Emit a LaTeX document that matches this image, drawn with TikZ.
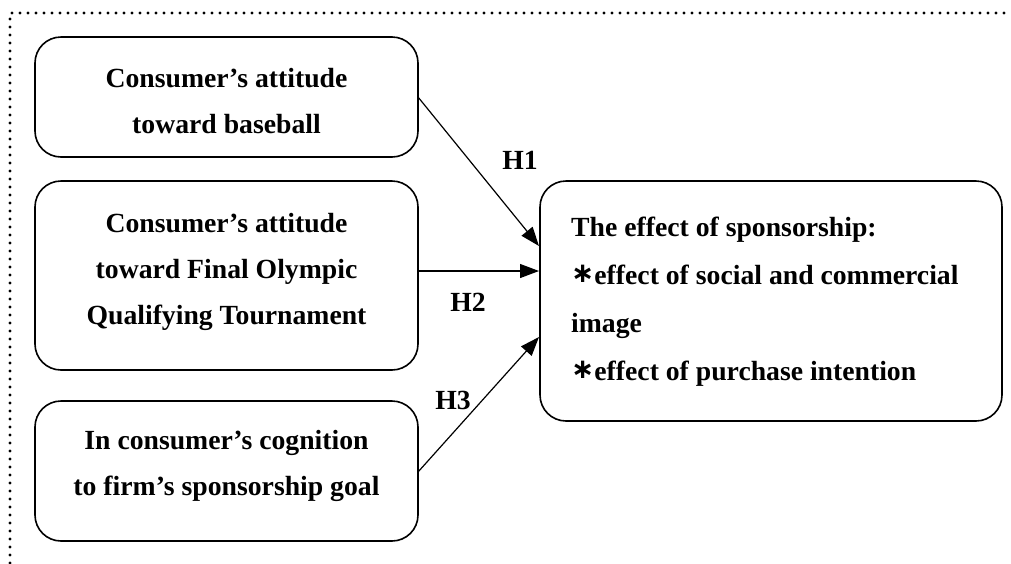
\documentclass[tikz,border=0pt]{standalone}
\usepackage{fontspec}
\setmainfont{Liberation Serif}
\newfontfamily\symfont{DejaVu Sans}
\usetikzlibrary{arrows.meta}
\begin{document}
\begin{tikzpicture}[x=1pt,y=-1pt,
  box/.style={draw,line width=1.6pt,rounded corners=26pt},
  txt/.style={align=center,font=\fontsize{27.7}{46}\selectfont\bfseries,inner sep=0pt},
  rtxt/.style={align=left,font=\fontsize{27.7}{48}\selectfont\bfseries,inner sep=0pt,anchor=north west},
  lbl/.style={font=\fontsize{27.7}{30}\selectfont\bfseries,inner sep=0pt},
  arr/.style={line width=1.2pt,-{Triangle[length=19pt,width=14pt]}},
  frame/.style={line width=3.2pt,dash pattern=on 0pt off 8pt,line cap=round}]
\useasboundingbox (0,0) rectangle (1011,563);
\draw[frame] (10,563) -- (10,13) -- (1011,13);
\draw[box] (35,37) rectangle (418,157);
\draw[box] (35,181) rectangle (418,370);
\draw[box] (35,401) rectangle (418,541);
\draw[box] (540,181) rectangle (1002,421);
\node[txt] (a) at (226.5,101) {Consumer’s attitude\\toward baseball};
\node[txt] (b) at (226.5,272) {Consumer’s attitude\\toward Final Olympic\\Qualifying Tournament};
\node[txt] (c) at (226.5,466) {In consumer’s cognition\\to firm’s sponsorship goal};
\node[rtxt] (d) at (571,217) {The effect of sponsorship:\\{\symfont\raisebox{2pt}{∗}}effect of social and commercial\\image\\{\symfont\raisebox{2pt}{∗}}effect of purchase intention};
\coordinate (a1) at (418,97);
\coordinate (b1) at (418,271);
\coordinate (c1) at (418,472);
\coordinate (d1) at (539,246);
\coordinate (d2) at (539,271);
\coordinate (d3) at (539,337);
\draw[arr] (a1) -- (d1);
\draw[arr] (b1) -- (d2);
\draw[arr] (c1) -- (d3);
\node[lbl] (h1) at (520,160) {H1};
\node[lbl] (h2) at (468,302) {H2};
\node[lbl] (h3) at (453,400) {H3};
\end{tikzpicture}
\end{document}
